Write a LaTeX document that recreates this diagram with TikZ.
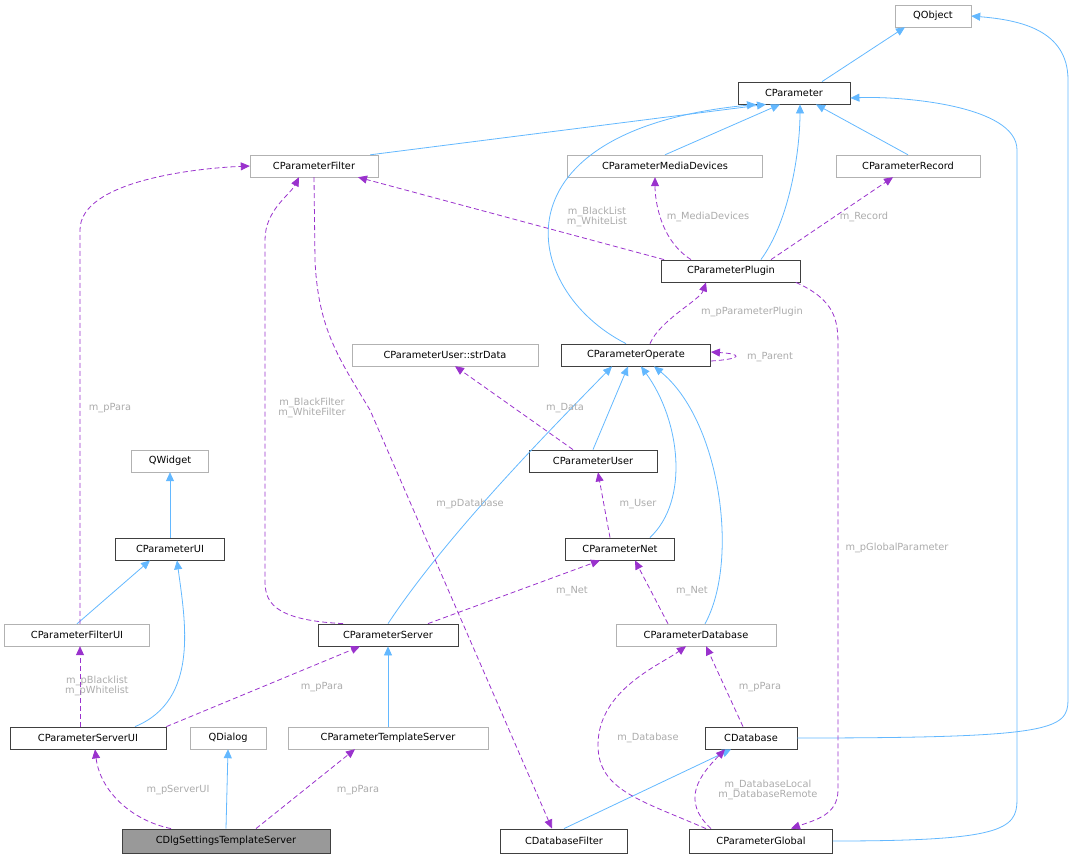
\documentclass[tikz,border=0pt]{standalone}
\usepackage{fontspec}
\setmainfont{DejaVu Sans}
\usetikzlibrary{arrows.meta}
\definecolor{inhc}{HTML}{63B8FF}
\definecolor{usec}{HTML}{9A32CD}
\definecolor{labc}{HTML}{ABABAB}
\begin{document}
\begin{tikzpicture}[x=1pt,y=-1pt,
  box/.style={draw, inner sep=0pt, minimum height=22pt, font=\fontsize{9.8}{11}\selectfont},
  dk/.style={box, draw=black!75, line width=0.8pt},
  gr/.style={box, draw=black!30},
  inh/.style={draw=inhc, line width=0.8pt, -{Triangle[length=9pt,width=8pt,fill=inhc]}},
  use/.style={draw=usec, line width=0.8pt, dashed, dash pattern=on 5pt off 3pt, -{Triangle[length=9pt,width=8pt,fill=usec]}},
  lab/.style={text=labc, font=\fontsize{9.8}{10.5}\selectfont, align=center, inner sep=1pt}]
\useasboundingbox (0,0) rectangle (1074,860);
\node[gr,minimum width=76] (qo) at (933,16) {QObject};
\node[dk,minimum width=112] (cp) at (794,93) {CParameter};
\node[gr,minimum width=128] (pf) at (314,166) {CParameterFilter};
\node[gr,minimum width=195] (pmd) at (665,166) {CParameterMediaDevices};
\node[gr,minimum width=144] (prec) at (908,166) {CParameterRecord};
\node[dk,minimum width=139] (pplug) at (731,271) {CParameterPlugin};
\node[gr,minimum width=186] (sd) at (445,355) {CParameterUser::strData};
\node[dk,minimum width=149] (op) at (636,355) {CParameterOperate};
\node[gr,minimum width=77] (qw) at (170,461) {QWidget};
\node[dk,minimum width=128] (pu) at (593,461) {CParameterUser};
\node[dk,minimum width=109] (pui) at (170,549) {CParameterUI};
\node[dk,minimum width=109] (pn) at (620,549) {CParameterNet};
\node[gr,minimum width=145] (pfui) at (77,635) {CParameterFilterUI};
\node[dk,minimum width=140] (ps) at (388,635) {CParameterServer};
\node[gr,minimum width=160] (pdb) at (696,635) {CParameterDatabase};
\node[dk,minimum width=156] (psui) at (88,738) {CParameterServerUI};
\node[gr,minimum width=76] (qd) at (228,738) {QDialog};
\node[gr,minimum width=200] (pts) at (388,738) {CParameterTemplateServer};
\node[dk,minimum width=92] (cd) at (751,738) {CDatabase};
\node[dk,minimum width=208,minimum height=24pt,fill=black!40] (dlg) at (226,841) {CDlgSettingsTemplateServer};
\node[dk,minimum width=127,minimum height=24pt] (dbf) at (564,841) {CDatabaseFilter};
\node[dk,minimum width=143,minimum height=24pt] (pg) at (761,841) {CParameterGlobal};
% inheritance
\draw[inh] ([xshift=28]cp.north) -- ([xshift=-28]qo.south);
\draw[inh] ([xshift=-8]pf.north east) -- ([xshift=-28]cp.south);
\draw[inh] (pmd.north) -- ([xshift=-14]cp.south);
\draw[inh] (prec.north) -- ([xshift=22]cp.south);
\draw[inh] ([xshift=-40]pplug.north east) .. controls (790,220) and (800,150) .. ([xshift=6]cp.south);
\draw[inh] ([xshift=-10]op.north) .. controls (520,290) and (490,130) .. ([xshift=-38]cp.south);
\draw[inh] (pg.east) .. controls (1000,841) and (1017,830) .. (1017,800) -- (1017,150) .. controls (1017,105) and (900,96) .. ([yshift=-5]cp.east);
\draw[inh] (cd.east) .. controls (1050,738) and (1068,730) .. (1068,700) -- (1068,80) .. controls (1068,30) and (1020,20) .. (qo.east);
\draw[inh] (pu.north) -- ([xshift=-8]op.south);
\draw[inh] ([xshift=-25]pn.north east) .. controls (690,500) and (680,420) .. ([xshift=5]op.south);
\draw[inh] (ps.north) .. controls (450,530) and (560,420) .. ([xshift=-24]op.south);
\draw[inh] ([xshift=9]pdb.north) .. controls (740,560) and (720,420) .. ([xshift=18]op.south);
\draw[inh] (pui.north) -- (qw.south);
\draw[inh] (pfui.north) -- ([xshift=-20]pui.south);
\draw[inh] ([xshift=47]psui.north) .. controls (200,700) and (185,620) .. ([xshift=7]pui.south);
\draw[inh] (pts.north) -- (ps.south);
\draw[inh] (dlg.north) -- (qd.south);
\draw[inh] (dbf.north) -- ([xshift=-20]cd.south);
% usage
\draw[use] ([xshift=3]pplug.north west) -- ([xshift=44]pf.south);
\node[lab] at (597,217) {m\_BlackList\\m\_WhiteList};
\draw[use] ([xshift=-40]pplug.north) .. controls (660,240) and (655,200) .. ([xshift=-10]pmd.south);
\node[lab] at (708,217) {m\_MediaDevices};
\draw[use] ([xshift=40]pplug.north) -- ([xshift=-15]prec.south);
\node[lab] at (864,217) {m\_Record};
\draw[use] ([xshift=14]op.north) .. controls (660,320) and (700,300) .. ([xshift=-25]pplug.south);
\node[lab] at (752,312) {m\_pParameterPlugin};
\draw[use] ([yshift=-6]op.east) .. controls +(32,-2) and +(32,2) .. ([yshift=3]op.east);
\node[lab] at (770,357) {m\_Parent};
\draw[use] ([xshift=-5]pplug.south east) .. controls (835,300) and (838,320) .. (838,345) -- (838,790) .. controls (838,815) and (815,820) .. ([xshift=30]pg.north);
\node[lab] at (897,548) {m\_pGlobalParameter};
\draw[use] ([xshift=-20]pu.north) -- ([xshift=10]sd.south);
\node[lab] at (565,408) {m\_Data};
\draw[use] ([xshift=-10]pn.north) -- ([xshift=5]pu.south);
\node[lab] at (638,504) {m\_User};
\draw[use] ([xshift=40]ps.north) -- ([xshift=-20]pn.south);
\node[lab] at (572,591) {m\_Net};
\draw[use] ([xshift=-28]pdb.north) -- ([xshift=15]pn.south);
\node[lab] at (692,591) {m\_Net};
\draw[use] ([xshift=-45]ps.north) .. controls (270,620) and (265,600) .. (265,580) -- (265,240) .. controls (265,210) and (290,195) .. ([xshift=-15]pf.south);
\node[lab] at (312,408) {m\_BlackFilter\\m\_WhiteFilter};
\draw[use] ([xshift=3]pfui.north) -- (80,230) .. controls (80,180) and (200,168) .. (pf.west);
\node[lab] at (110,408) {m\_pPara};
\draw[use] (pf.south) -- (315,260) .. controls (318,330) and (340,360) .. (370,410) -- ([xshift=-12]dbf.north);
\node[lab] at (470,504) {m\_pDatabase};
\draw[use] ([xshift=-8]psui.north) -- ([xshift=3]pfui.south);
\node[lab] at (97,686) {m\_pBlacklist\\m\_pWhitelist};
\draw[use] (psui.north east) -- ([xshift=-28]ps.south);
\node[lab] at (322,687) {m\_pPara};
\draw[use] ([xshift=-8]cd.north) -- ([xshift=10]pdb.south);
\node[lab] at (760,687) {m\_pPara};
\draw[use] ([xshift=-55]pg.north) .. controls (640,800) and (598,790) .. (598,745) .. controls (598,690) and (660,665) .. ([xshift=-10]pdb.south);
\node[lab] at (648,738) {m\_Database};
\draw[use] ([xshift=-50]pg.north) .. controls (680,800) and (700,775) .. ([xshift=-26]cd.south);
\node[lab] at (768,790) {m\_DatabaseLocal\\m\_DatabaseRemote};
\draw[use] ([xshift=-55]dlg.north) .. controls (130,820) and (100,790) .. ([xshift=7]psui.south);
\node[lab] at (178,790) {m\_pServerUI};
\draw[use] ([xshift=30]dlg.north) -- ([xshift=-33]pts.south);
\node[lab] at (358,790) {m\_pPara};
\end{tikzpicture}
\end{document}
